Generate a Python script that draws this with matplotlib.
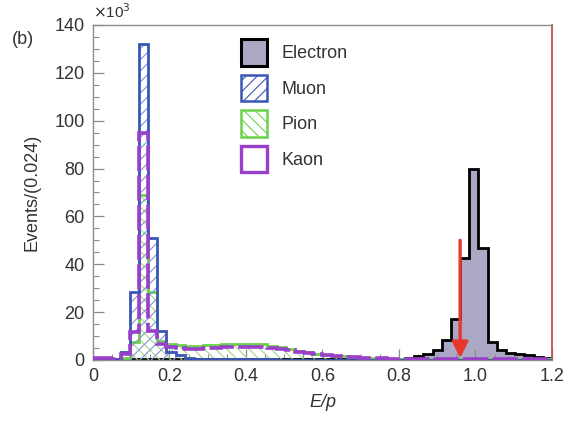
import numpy as np
import matplotlib
matplotlib.use("Agg")
import matplotlib.pyplot as plt
from matplotlib.patches import Patch

plt.rcParams['font.family'] = ['Liberation Sans', 'DejaVu Sans']
plt.rcParams['hatch.linewidth'] = 0.8

# E/p histograms, 50 bins of width 0.024 between 0 and 1.2 (values in units of 10^3 events)
bin_width = 0.024
n_bins = 50

electron = [0.3, 0.3, 0.3, 0.3, 0.3, 0.3, 0.3, 0.3, 0.3, 0.3,
            0.3, 0.3, 0.3, 0.3, 0.3, 0.3, 0.3, 0.3, 0.3, 0.3,
            0.3, 0.3, 0.3, 0.3, 0.3, 0.3, 0.3, 0.3, 0.3, 0.3,
            0.3, 0.4, 0.5, 0.6, 0.9, 1.5, 2.5, 4.2, 8.4, 17.0,
            42.5, 80.0, 46.7, 7.7, 4.0, 3.0, 2.5, 2.0, 1.3, 0.8]

muon = [0.1, 0.1, 0.3, 3.5, 28.6, 132.0, 51.0, 12.0, 3.5, 2.0,
        1.0, 0.5, 0.4, 0.3, 0.3, 0.3, 0.3, 0.3, 0.3, 0.3,
        0.2, 0.2, 0.2, 0.2, 0.2, 0.2, 0.2, 0.2, 0.2, 0.2,
        0.2, 0.2, 0.2, 0.2, 0.2, 0.2, 0.2, 0.2, 0.2, 0.2,
        0.2, 0.2, 0.2, 0.2, 0.2, 0.2, 0.2, 0.2, 0.2, 0.2]

pion = [0.3, 0.3, 0.3, 0.8, 7.5, 69.0, 28.6, 8.0, 6.5, 6.3,
        6.0, 6.0, 6.2, 6.4, 6.6, 6.6, 6.8, 6.8, 6.5, 6.0,
        5.3, 4.6, 3.9, 3.3, 2.7, 2.2, 1.8, 1.5, 1.2, 1.0,
        0.8, 0.7, 0.6, 0.6, 0.5, 0.5, 0.5, 0.5, 0.5, 0.5,
        0.5, 0.5, 0.5, 0.5, 0.5, 0.5, 0.5, 0.5, 0.5, 0.5]

kaon = [0.8, 0.8, 0.6, 2.5, 11.5, 95.0, 12.0, 6.5, 5.6, 5.0,
        4.8, 4.8, 5.0, 5.2, 5.4, 5.5, 5.6, 5.6, 5.4, 5.0,
        4.5, 4.0, 3.4, 2.9, 2.4, 2.0, 1.7, 1.4, 1.2, 1.0,
        0.8, 0.7, 0.6, 0.5, 0.5, 0.5, 0.5, 0.5, 0.5, 0.5,
        0.5, 0.5, 0.5, 0.5, 0.5, 0.5, 0.5, 0.5, 0.5, 0.5]

labels = ["Electron", "Muon", "Pion", "Kaon"]
x_ticks = [0, 0.2, 0.4, 0.6, 0.8, 1.0, 1.2]
x_tick_labels = ["0", "0.2", "0.4", "0.6", "0.8", "1.0", "1.2"]
y_ticks = [0, 20, 40, 60, 80, 100, 120, 140]

# cut position on E/p
cut_value = 0.96
cut_arrow_top = 50

edges = np.arange(n_bins + 1) * bin_width

c_elec_fill = "#aba8c6"
c_muon = "#3a55b4"
c_muon_hatch = "#8393d2"
c_pion = "#6cd14a"
c_pion_hatch = "#9fd68c"
c_kaon = "#9a3fc9"
c_axis = "#8c8c8c"

fig = plt.figure(figsize=(5.69, 4.33), dpi=100)
ax = fig.add_axes([0.1634, 0.1686, 0.8066, 0.7737])

# Electron: filled histogram with black outline
ax.stairs(electron, edges, fill=True, facecolor=c_elec_fill, edgecolor="none", zorder=1)
ax.stairs(electron, edges, baseline=0, color="black", lw=2.0, zorder=2)

# Pion: back-slash hatch with green outline
ax.stairs(pion, edges, fill=True, facecolor="none", edgecolor=c_pion_hatch,
          hatch="\\\\\\", lw=0, zorder=3)
ax.stairs(pion, edges, baseline=0, color=c_pion, lw=2.0, zorder=4)

# Muon: forward-slash hatch with blue outline
ax.stairs(muon, edges, fill=True, facecolor="none", edgecolor=c_muon_hatch,
          hatch="///", lw=0, zorder=5)
ax.stairs(muon, edges, baseline=0, color=c_muon, lw=2.0, zorder=6)

# Kaon: dashed purple outline
ax.stairs(kaon, edges, baseline=0, color=c_kaon, lw=2.6, zorder=7,
          linestyle=(0, (7, 1.2)))

# Cut arrow
ax.annotate("", xy=(cut_value, 0.8), xytext=(cut_value, cut_arrow_top),
            arrowprops=dict(arrowstyle="-|>", color="#e8362c", lw=2.4,
                            mutation_scale=24, shrinkA=0, shrinkB=0),
            zorder=9)

ax.set_xlim(0, 1.2)
ax.set_ylim(0, 140)

ax.set_xticks(x_ticks)
ax.set_xticklabels(x_tick_labels)
ax.set_yticks(y_ticks)
ax.set_xticks(np.arange(0, 1.2001, 0.05), minor=True)
ax.set_yticks(np.arange(0, 140.01, 5), minor=True)
ax.tick_params(axis="both", which="major", direction="in", length=8, width=0.9,
               color=c_axis, labelsize=13, labelcolor="#333333", pad=6)
ax.tick_params(axis="both", which="minor", direction="in", length=4, width=0.8,
               color=c_axis)
ax.tick_params(axis="x", which="both", top=False)
ax.tick_params(axis="y", which="both", right=False)

for side in ["left", "bottom", "top"]:
    ax.spines[side].set_color(c_axis)
    ax.spines[side].set_linewidth(1.0)
ax.spines["right"].set_color("#c0504d")
ax.spines["right"].set_linewidth(1.3)

ax.set_xlabel("E/p", fontsize=13, style="italic", color="#333333", labelpad=6)
ax.set_ylabel("Events/(0.024)", fontsize=13, color="#333333", labelpad=10)

ax.text(0.0, 1.012, r"$\times$10$^3$", transform=ax.transAxes, fontsize=11,
        ha="left", va="bottom", color="#333333")
fig.text(0.04, 0.908, "(b)", fontsize=13, ha="center", va="center", color="#333333")

handles = [
    Patch(facecolor=c_elec_fill, edgecolor="black", lw=2.2),
    Patch(facecolor="white", edgecolor=c_muon, lw=1.8, hatch="///"),
    Patch(facecolor="white", edgecolor=c_pion, lw=1.8, hatch="\\\\\\"),
    Patch(facecolor="white", edgecolor=c_kaon, lw=2.4),
]
leg = ax.legend(handles, labels, loc="upper left", bbox_to_anchor=(0.295, 0.995),
                frameon=False, fontsize=13, handlelength=1.45, handleheight=1.88,
                handletextpad=0.8, labelspacing=0.5, borderpad=0.2)
for t in leg.get_texts():
    t.set_color("#333333")

fig.savefig("out.png", dpi=100)
